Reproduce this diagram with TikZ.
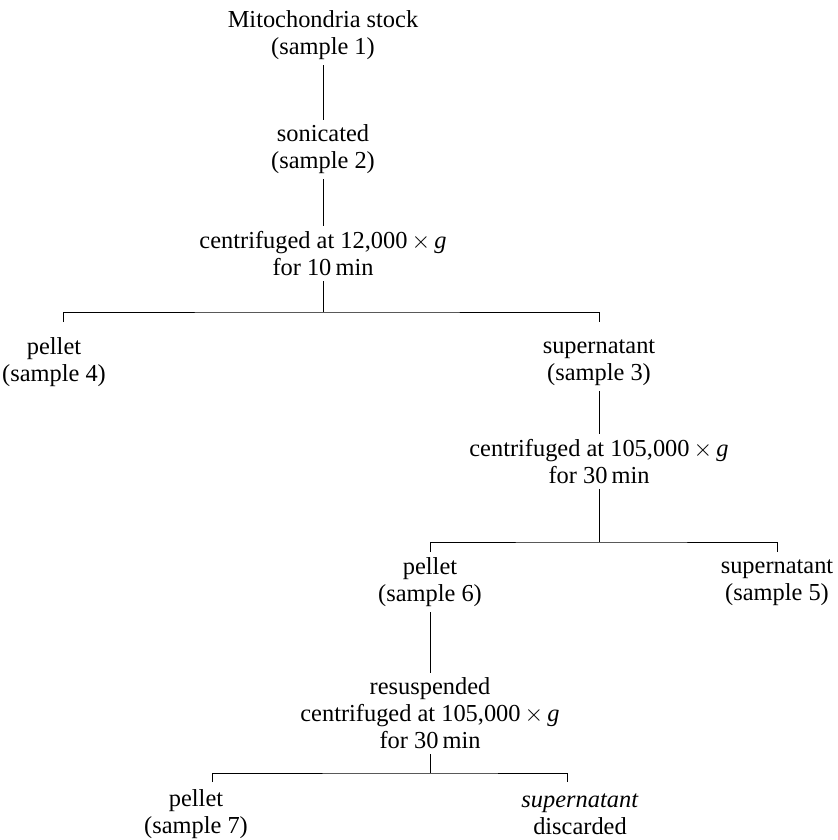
\documentclass[tikz,border=0pt]{standalone}
\usepackage{fontspec}
\setmainfont{Liberation Serif}
\begin{document}
\begin{tikzpicture}[x=0.5pt,y=-0.5pt,
    every node/.style={align=center,inner sep=2.5pt,font=\fontsize{12.2}{13.5}\selectfont}]
  \useasboundingbox (0,0) rectangle (838,840);
  \path
    (323,35.5) node (stock){Mitochondria stock\\(sample 1)}
    (323,149.5) node (sonic){sonicated\\(sample 2)}
    (323,253.5) node (spinA){centrifuged at 12,000\,$\times$\,\textit{g}\\for 10\,min}
    (54,362.5) node (pel4){pellet\\(sample 4)}
    (599,362.5) node (sup3){supernatant\\(sample 3)}
    (599,461.5) node (spinB){centrifuged at 105,000\,$\times$\,\textit{g}\\for 30\,min}
    (430,582.5) node (pel6){pellet\\(sample 6)}
    (777,582.5) node (sup5){supernatant\\(sample 5)}
    (430,713.5) node (spinC){resuspended\\centrifuged at 105,000\,$\times$\,\textit{g}\\for 30\,min}
    (196,814.5) node (pel7){pellet\\(sample 7)}
    (580,814.5) node (supX){\textit{supernatant}\\discarded};
  \path
    (323,312) coordinate (splitA)
    (63,322) coordinate (pel4top)
    (599,322) coordinate (sup3top)
    (599,542) coordinate (splitB)
    (430,552) coordinate (pel6top)
    (777,552) coordinate (sup5top)
    (430,773) coordinate (splitC)
    (212,782) coordinate (pel7top)
    (567,782) coordinate (supXtop);
  \begin{scope}[-]
    \draw (stock) to (sonic);
    \draw (sonic) to (spinA);
    \draw (spinA) to (splitA);
    \draw (pel4top) |- (splitA) -| (sup3top);
    \draw (sup3) to (spinB);
    \draw (spinB) to (splitB);
    \draw (pel6top) |- (splitB) -| (sup5top);
    \draw (pel6) to (spinC);
    \draw (spinC) to (splitC);
    \draw (pel7top) |- (splitC) -| (supXtop);
  \end{scope}
\end{tikzpicture}
\end{document}
